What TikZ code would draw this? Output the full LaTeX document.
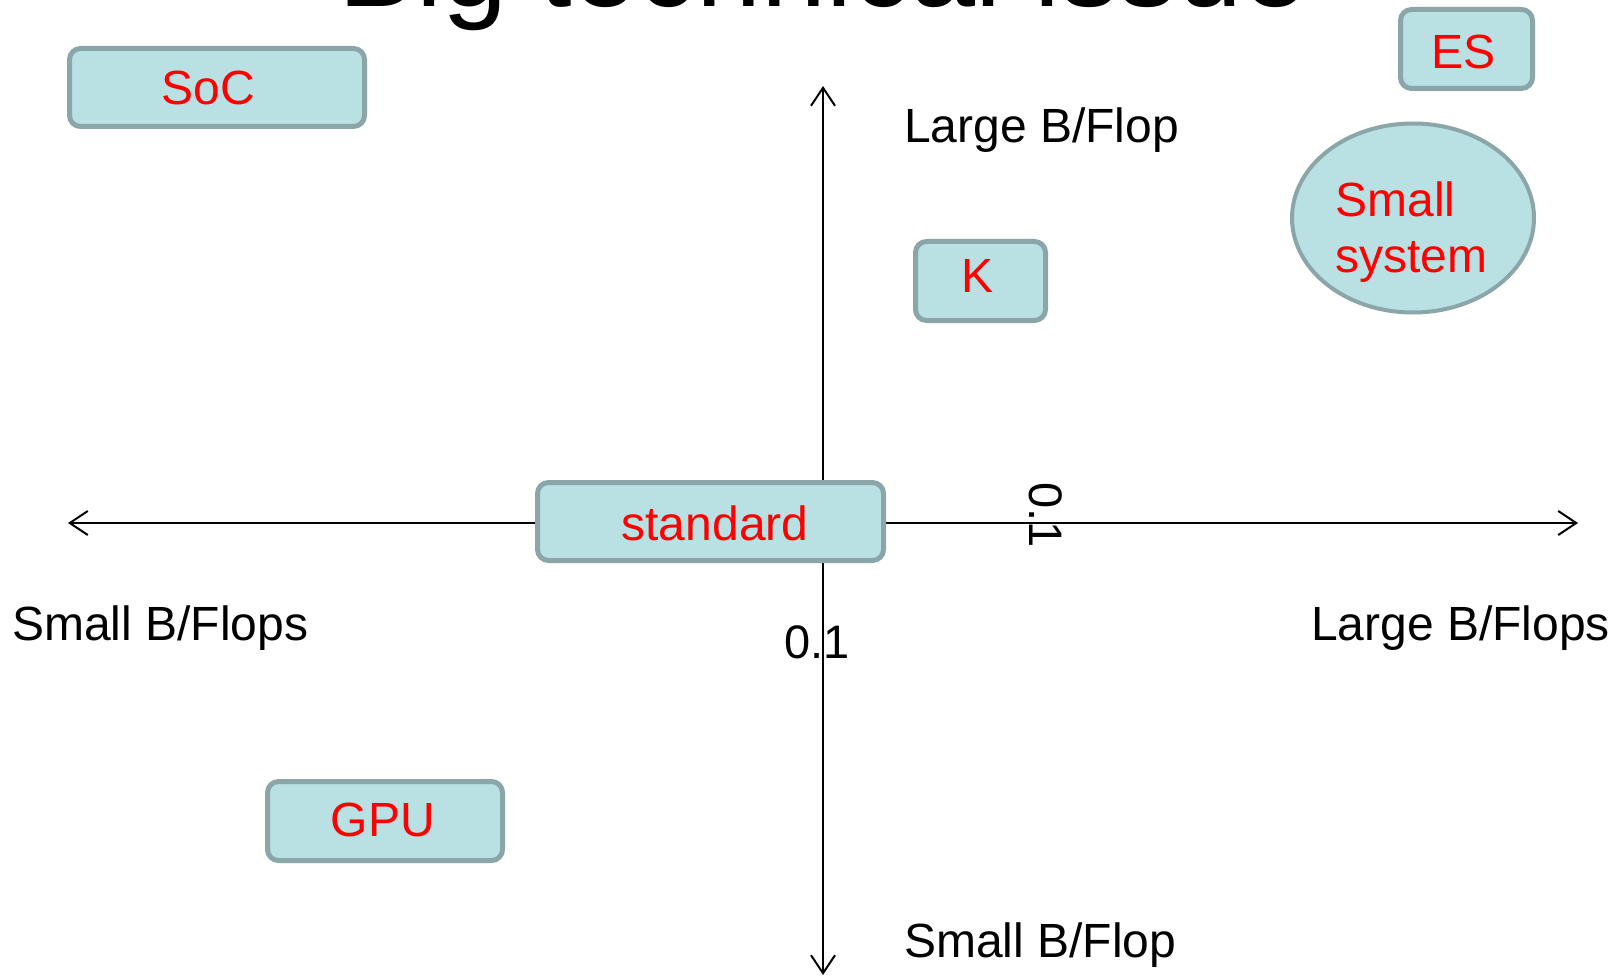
\documentclass[tikz,border=0pt]{standalone}
\usepackage{fontspec}
\setmainfont{Liberation Sans}
\usetikzlibrary{shapes.geometric,arrows.meta}
\definecolor{boxfill}{HTML}{B9E0E3}
\definecolor{boxline}{HTML}{8BA6A8}
\begin{document}
\begin{tikzpicture}[x=1pt,y=-1pt,
  axisline/.style={line width=2pt, {Straight Barb[length=18pt,width=24pt]}-{Straight Barb[length=18pt,width=24pt]}},
  tagbox/.style={rectangle, rounded corners=11pt, draw=boxline, fill=boxfill,
    line width=5pt, inner sep=0pt},
  tagoval/.style={ellipse, draw=boxline, fill=boxfill, line width=4pt, inner sep=0pt},
  tagtext/.style={text=red, inner sep=0pt, font=\fontsize{48pt}{56pt}\selectfont},
  axislabel/.style={inner sep=0pt, anchor=base west, font=\fontsize{48pt}{54pt}\selectfont},
  ticklabel/.style={inner sep=0pt, font=\fontsize{47pt}{54pt}\selectfont},
  title/.style={inner sep=0pt, anchor=base, font=\fontsize{117pt}{122pt}\selectfont}]
\useasboundingbox (0,0) rectangle (1624,976);
\clip (0,0) rectangle (1624,976);

% heading, partly above the page edge
\node[title] (heading) at (823,7) {Big technical issue};

% axes
\coordinate (xleft) at (68,523);
\coordinate (xright) at (1578,523);
\coordinate (ytop) at (823,86);
\coordinate (ybottom) at (823,975);
\draw[axisline] (xleft) -- (xright);
\draw[axisline] (ytop) -- (ybottom);

% axis labels
\node[axislabel] (lgflop) at (904,143) {Large B/Flop};
\node[axislabel] (smflop) at (904,957) {Small B/Flop};
\node[axislabel] (smflops) at (12,640) {Small B/Flops};
\node[axislabel] (lgflops) at (1311,640) {Large B/Flops};
\node[ticklabel] (tickx) at (817,642) {0.1};
\node[ticklabel, rotate=-90] (ticky) at (1046,515) {0.1};

% systems
\node[tagbox, minimum width=295pt, minimum height=78pt,
  label={[tagtext, xshift=-9pt]center:SoC}] (soc) at (217,87.5) {};
\node[tagbox, minimum width=132pt, minimum height=79pt,
  label={[tagtext, xshift=-3.5pt, yshift=-3pt]center:ES}] (es) at (1466.5,49) {};
\node[tagoval, minimum width=242pt, minimum height=189pt,
  label={[tagtext, align=left, xshift=-1.5pt, yshift=-14pt]center:Small\\system}] (small) at (1413,218) {};
\node[tagbox, minimum width=130pt, minimum height=79pt,
  label={[tagtext, xshift=-3.5pt, yshift=5pt]center:K}] (k) at (980.5,281) {};
\node[tagbox, minimum width=346pt, minimum height=78pt,
  label={[tagtext, xshift=4.5pt, yshift=-1.5pt]center:standard}] (std) at (710.5,521.5) {};
\node[tagbox, minimum width=235pt, minimum height=79pt,
  label={[tagtext, xshift=-2pt, yshift=1pt]center:GPU}] (gpu) at (385,821) {};
\end{tikzpicture}
\end{document}
